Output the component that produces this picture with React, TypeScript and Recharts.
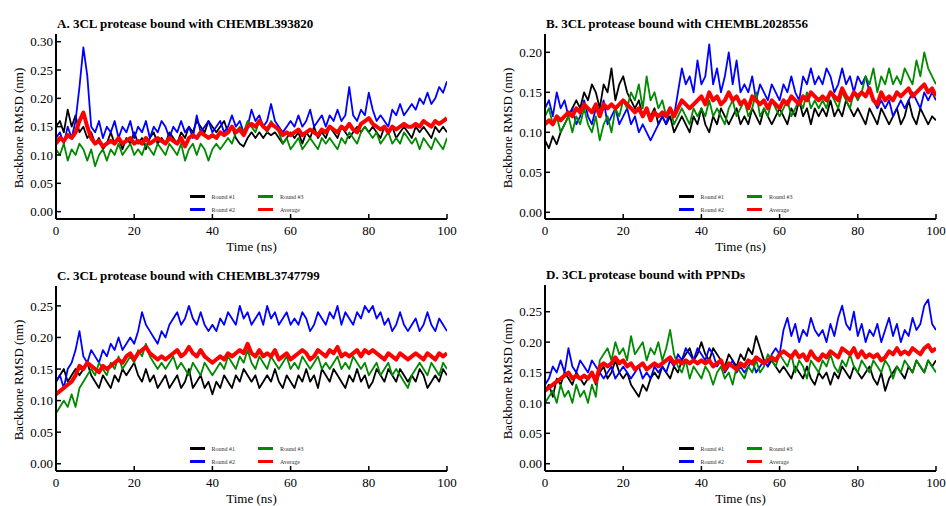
import React from 'react';
import { LineChart, Line, XAxis, YAxis } from 'recharts';

// Simulation time (ns), sampled every 1 ns
const TIME_NS = [
  0, 1, 2, 3, 4, 5, 6, 7, 8, 9, 10,
  11, 12, 13, 14, 15, 16, 17, 18, 19, 20,
  21, 22, 23, 24, 25, 26, 27, 28, 29, 30,
  31, 32, 33, 34, 35, 36, 37, 38, 39, 40,
  41, 42, 43, 44, 45, 46, 47, 48, 49, 50,
  51, 52, 53, 54, 55, 56, 57, 58, 59, 60,
  61, 62, 63, 64, 65, 66, 67, 68, 69, 70,
  71, 72, 73, 74, 75, 76, 77, 78, 79, 80,
  81, 82, 83, 84, 85, 86, 87, 88, 89, 90,
  91, 92, 93, 94, 95, 96, 97, 98, 99, 100,
];

const X_TICKS = [0, 20, 40, 60, 80, 100];
const Y_TICKS_030 = [0, 0.05, 0.1, 0.15, 0.2, 0.25, 0.3];
const Y_TICKS_020 = [0, 0.05, 0.1, 0.15, 0.2];
const Y_TICKS_025 = [0, 0.05, 0.1, 0.15, 0.2, 0.25];

const SERIES_NAMES = ['Round #1', 'Round #2', 'Round #3', 'Average'];

// ---- A. CHEMBL393820 ----
const A_ROUND1 = [
  0.15, 0.16, 0.14, 0.18, 0.15, 0.17, 0.14, 0.15, 0.13, 0.14, 0.12,
  0.13, 0.11, 0.12, 0.14, 0.12, 0.13, 0.11, 0.13, 0.12, 0.14,
  0.12, 0.13, 0.11, 0.13, 0.14, 0.12, 0.13, 0.12, 0.14, 0.13,
  0.12, 0.14, 0.13, 0.15, 0.14, 0.16, 0.15, 0.14, 0.16, 0.15,
  0.14, 0.15, 0.16, 0.14, 0.15, 0.13, 0.12, 0.115, 0.13, 0.14,
  0.13, 0.14, 0.13, 0.14, 0.135, 0.14, 0.13, 0.12, 0.13, 0.14,
  0.13, 0.14, 0.12, 0.14, 0.13, 0.15, 0.13, 0.14, 0.13, 0.15,
  0.14, 0.13, 0.15, 0.14, 0.13, 0.14, 0.15, 0.14, 0.15, 0.14,
  0.15, 0.14, 0.13, 0.15, 0.14, 0.15, 0.13, 0.14, 0.15, 0.14,
  0.13, 0.15, 0.14, 0.15, 0.14, 0.13, 0.15, 0.14, 0.15, 0.14,
];
const A_ROUND2 = [
  0.13, 0.14, 0.12, 0.15, 0.13, 0.16, 0.22, 0.29, 0.24, 0.15, 0.14,
  0.16, 0.13, 0.15, 0.14, 0.16, 0.13, 0.15, 0.14, 0.16, 0.13,
  0.15, 0.14, 0.16, 0.13, 0.15, 0.14, 0.16, 0.15, 0.13, 0.15,
  0.14, 0.16, 0.14, 0.15, 0.13, 0.17, 0.14, 0.15, 0.16, 0.14,
  0.15, 0.16, 0.14, 0.15, 0.17, 0.15, 0.16, 0.14, 0.15, 0.18,
  0.16, 0.17, 0.15, 0.16, 0.19, 0.16, 0.15, 0.14, 0.15, 0.16,
  0.15, 0.17, 0.15, 0.16, 0.18, 0.15, 0.16, 0.17, 0.15, 0.17,
  0.16, 0.18, 0.16, 0.17, 0.22, 0.17, 0.16, 0.18, 0.17, 0.21,
  0.18, 0.16, 0.17, 0.16, 0.15, 0.18, 0.17, 0.19, 0.17, 0.18,
  0.19, 0.18, 0.20, 0.19, 0.21, 0.19, 0.20, 0.22, 0.21, 0.23,
];
const A_ROUND3 = [
  0.11, 0.10, 0.12, 0.09, 0.11, 0.10, 0.12, 0.11, 0.09, 0.11, 0.08,
  0.10, 0.11, 0.09, 0.11, 0.10, 0.12, 0.10, 0.11, 0.12, 0.10,
  0.11, 0.10, 0.12, 0.11, 0.10, 0.12, 0.11, 0.10, 0.12, 0.11,
  0.10, 0.12, 0.09, 0.11, 0.12, 0.10, 0.12, 0.11, 0.09, 0.11,
  0.12, 0.11, 0.12, 0.13, 0.12, 0.14, 0.15, 0.14, 0.16, 0.15,
  0.14, 0.16, 0.15, 0.14, 0.16, 0.15, 0.14, 0.12, 0.13, 0.11,
  0.12, 0.13, 0.11, 0.12, 0.13, 0.12, 0.11, 0.13, 0.12, 0.13,
  0.12, 0.11, 0.13, 0.12, 0.14, 0.13, 0.12, 0.14, 0.15, 0.14,
  0.13, 0.14, 0.12, 0.13, 0.14, 0.12, 0.13, 0.12, 0.14, 0.13,
  0.12, 0.13, 0.11, 0.13, 0.12, 0.11, 0.13, 0.12, 0.11, 0.13,
];
const A_AVERAGE = [
  0.12, 0.13, 0.125, 0.135, 0.13, 0.14, 0.16, 0.175, 0.15, 0.13, 0.12,
  0.125, 0.115, 0.12, 0.125, 0.12, 0.13, 0.12, 0.125, 0.13, 0.12,
  0.125, 0.12, 0.13, 0.12, 0.125, 0.13, 0.125, 0.12, 0.13, 0.125,
  0.12, 0.13, 0.115, 0.13, 0.135, 0.13, 0.14, 0.135, 0.13, 0.135,
  0.13, 0.14, 0.135, 0.14, 0.15, 0.14, 0.145, 0.135, 0.15, 0.155,
  0.15, 0.16, 0.15, 0.145, 0.155, 0.15, 0.145, 0.135, 0.14, 0.135,
  0.14, 0.145, 0.135, 0.14, 0.145, 0.14, 0.135, 0.145, 0.14, 0.15,
  0.145, 0.14, 0.15, 0.145, 0.155, 0.145, 0.14, 0.155, 0.16, 0.165,
  0.155, 0.15, 0.145, 0.15, 0.14, 0.15, 0.145, 0.15, 0.155, 0.15,
  0.15, 0.155, 0.15, 0.16, 0.155, 0.15, 0.16, 0.155, 0.16, 0.165,
];

// ---- B. CHEMBL2028556 ----
const B_ROUND1 = [
  0.09, 0.08, 0.095, 0.085, 0.10, 0.11, 0.12, 0.13, 0.14, 0.13, 0.15,
  0.14, 0.16, 0.15, 0.13, 0.16, 0.15, 0.18, 0.14, 0.16, 0.17,
  0.15, 0.14, 0.13, 0.14, 0.12, 0.13, 0.12, 0.13, 0.11, 0.12,
  0.11, 0.12, 0.10, 0.11, 0.12, 0.11, 0.10, 0.12, 0.11, 0.13,
  0.11, 0.10, 0.12, 0.11, 0.13, 0.12, 0.11, 0.12, 0.13, 0.11,
  0.12, 0.11, 0.13, 0.12, 0.11, 0.13, 0.12, 0.11, 0.12, 0.13,
  0.12, 0.11, 0.13, 0.12, 0.14, 0.12, 0.13, 0.11, 0.13, 0.12,
  0.13, 0.12, 0.14, 0.12, 0.13, 0.12, 0.14, 0.13, 0.12, 0.13,
  0.12, 0.11, 0.13, 0.12, 0.11, 0.13, 0.12, 0.11, 0.12, 0.13,
  0.11, 0.12, 0.14, 0.12, 0.11, 0.13, 0.12, 0.11, 0.12, 0.115,
];
const B_ROUND2 = [
  0.13, 0.14, 0.12, 0.15, 0.13, 0.14, 0.12, 0.13, 0.11, 0.12, 0.14,
  0.12, 0.11, 0.13, 0.12, 0.14, 0.11, 0.12, 0.13, 0.11, 0.12,
  0.13, 0.11, 0.12, 0.10, 0.11, 0.10, 0.09, 0.10, 0.11, 0.12,
  0.11, 0.13, 0.12, 0.15, 0.18, 0.16, 0.17, 0.15, 0.19, 0.16,
  0.17, 0.21, 0.16, 0.18, 0.15, 0.17, 0.20, 0.16, 0.19, 0.15,
  0.16, 0.15, 0.17, 0.14, 0.16, 0.15, 0.14, 0.16, 0.15, 0.14,
  0.16, 0.15, 0.17, 0.15, 0.14, 0.17, 0.16, 0.18, 0.16, 0.17,
  0.16, 0.18, 0.17, 0.15, 0.16, 0.18, 0.16, 0.17, 0.15, 0.17,
  0.16, 0.17, 0.15, 0.14, 0.13, 0.14, 0.13, 0.14, 0.12, 0.13,
  0.14, 0.13, 0.14, 0.15, 0.14, 0.13, 0.15, 0.14, 0.15, 0.14,
];
const B_ROUND3 = [
  0.12, 0.13, 0.11, 0.12, 0.10, 0.11, 0.12, 0.10, 0.12, 0.11, 0.13,
  0.11, 0.10, 0.12, 0.09, 0.11, 0.12, 0.10, 0.13, 0.12, 0.14,
  0.13, 0.15, 0.14, 0.16, 0.13, 0.17, 0.14, 0.15, 0.13, 0.14,
  0.12, 0.13, 0.11, 0.12, 0.13, 0.12, 0.11, 0.13, 0.12, 0.13,
  0.12, 0.14, 0.12, 0.13, 0.12, 0.11, 0.13, 0.14, 0.12, 0.13,
  0.14, 0.12, 0.13, 0.15, 0.12, 0.13, 0.12, 0.14, 0.13, 0.12,
  0.13, 0.14, 0.12, 0.13, 0.14, 0.13, 0.15, 0.13, 0.14, 0.13,
  0.14, 0.13, 0.15, 0.14, 0.13, 0.15, 0.14, 0.13, 0.15, 0.14,
  0.15, 0.17, 0.16, 0.18, 0.15, 0.17, 0.16, 0.18, 0.16, 0.17,
  0.16, 0.18, 0.17, 0.16, 0.19, 0.17, 0.20, 0.18, 0.17, 0.16,
];
const B_AVERAGE = [
  0.11, 0.115, 0.11, 0.12, 0.115, 0.12, 0.125, 0.12, 0.13, 0.125, 0.135,
  0.13, 0.125, 0.135, 0.12, 0.135, 0.13, 0.135, 0.13, 0.135, 0.14,
  0.135, 0.13, 0.125, 0.13, 0.12, 0.13, 0.115, 0.125, 0.12, 0.125,
  0.12, 0.13, 0.12, 0.13, 0.14, 0.135, 0.13, 0.135, 0.14, 0.145,
  0.135, 0.15, 0.14, 0.145, 0.135, 0.14, 0.15, 0.14, 0.145, 0.135,
  0.14, 0.13, 0.145, 0.14, 0.135, 0.14, 0.13, 0.14, 0.135, 0.13,
  0.14, 0.135, 0.145, 0.14, 0.135, 0.145, 0.14, 0.15, 0.145, 0.14,
  0.145, 0.14, 0.15, 0.145, 0.14, 0.155, 0.145, 0.14, 0.15, 0.145,
  0.15, 0.145, 0.155, 0.14, 0.135, 0.15, 0.14, 0.145, 0.14, 0.15,
  0.145, 0.15, 0.155, 0.145, 0.15, 0.155, 0.16, 0.15, 0.155, 0.145,
];

// ---- C. CHEMBL3747799 ----
const C_ROUND1 = [
  0.13, 0.14, 0.15, 0.13, 0.14, 0.15, 0.14, 0.15, 0.16, 0.14, 0.13,
  0.12, 0.14, 0.13, 0.12, 0.14, 0.13, 0.15, 0.14, 0.15, 0.16,
  0.14, 0.13, 0.15, 0.13, 0.14, 0.12, 0.13, 0.14, 0.12, 0.13,
  0.14, 0.12, 0.13, 0.15, 0.12, 0.13, 0.14, 0.12, 0.13, 0.11,
  0.13, 0.12, 0.14, 0.13, 0.12, 0.14, 0.13, 0.15, 0.14, 0.13,
  0.14, 0.12, 0.13, 0.14, 0.13, 0.15, 0.13, 0.12, 0.14, 0.13,
  0.12, 0.14, 0.13, 0.15, 0.13, 0.14, 0.12, 0.15, 0.14, 0.13,
  0.15, 0.14, 0.13, 0.12, 0.14, 0.13, 0.15, 0.13, 0.14, 0.12,
  0.13, 0.15, 0.14, 0.13, 0.15, 0.14, 0.13, 0.15, 0.14, 0.13,
  0.14, 0.13, 0.15, 0.14, 0.12, 0.13, 0.14, 0.13, 0.15, 0.14,
];
const C_ROUND2 = [
  0.13, 0.14, 0.12, 0.15, 0.16, 0.18, 0.21, 0.17, 0.16, 0.18, 0.17,
  0.16, 0.18, 0.17, 0.19, 0.18, 0.20, 0.18, 0.19, 0.20, 0.19,
  0.21, 0.24, 0.22, 0.21, 0.20, 0.19, 0.21, 0.20, 0.22, 0.23,
  0.24, 0.22, 0.23, 0.25, 0.23, 0.22, 0.24, 0.22, 0.21, 0.22,
  0.21, 0.23, 0.22, 0.24, 0.23, 0.22, 0.25, 0.23, 0.24, 0.22,
  0.23, 0.24, 0.22, 0.25, 0.23, 0.24, 0.22, 0.23, 0.24, 0.22,
  0.23, 0.22, 0.24, 0.23, 0.21, 0.22, 0.24, 0.23, 0.22, 0.24,
  0.23, 0.25, 0.22, 0.24, 0.23, 0.22, 0.24, 0.23, 0.25, 0.24,
  0.25, 0.23, 0.24, 0.22, 0.23, 0.21, 0.22, 0.24, 0.22, 0.21,
  0.22, 0.23, 0.21, 0.22, 0.24, 0.22, 0.21, 0.23, 0.22, 0.21,
];
const C_ROUND3 = [
  0.08, 0.09, 0.10, 0.09, 0.11, 0.09, 0.12, 0.13, 0.14, 0.15, 0.14,
  0.16, 0.15, 0.14, 0.16, 0.15, 0.17, 0.15, 0.16, 0.17, 0.16,
  0.18, 0.17, 0.19, 0.17, 0.16, 0.15, 0.16, 0.15, 0.16, 0.17,
  0.15, 0.16, 0.15, 0.14, 0.16, 0.15, 0.14, 0.16, 0.15, 0.14,
  0.15, 0.16, 0.15, 0.17, 0.16, 0.15, 0.17, 0.16, 0.18, 0.16,
  0.15, 0.17, 0.16, 0.15, 0.17, 0.16, 0.15, 0.16, 0.17, 0.15,
  0.16, 0.15, 0.17, 0.16, 0.15, 0.16, 0.17, 0.15, 0.16, 0.15,
  0.16, 0.17, 0.15, 0.16, 0.15, 0.17, 0.16, 0.15, 0.16, 0.14,
  0.15, 0.16, 0.14, 0.15, 0.16, 0.14, 0.15, 0.14, 0.13, 0.12,
  0.14, 0.15, 0.16, 0.15, 0.14, 0.16, 0.15, 0.14, 0.16, 0.15,
];
const C_AVERAGE = [
  0.11, 0.115, 0.12, 0.125, 0.13, 0.14, 0.155, 0.15, 0.16, 0.155, 0.15,
  0.145, 0.155, 0.15, 0.155, 0.16, 0.165, 0.16, 0.17, 0.175, 0.165,
  0.175, 0.18, 0.185, 0.175, 0.17, 0.165, 0.17, 0.165, 0.17, 0.175,
  0.18, 0.17, 0.175, 0.185, 0.175, 0.17, 0.18, 0.17, 0.165, 0.16,
  0.165, 0.17, 0.165, 0.175, 0.17, 0.175, 0.18, 0.175, 0.19, 0.175,
  0.17, 0.18, 0.17, 0.175, 0.17, 0.18, 0.165, 0.17, 0.175, 0.165,
  0.17, 0.175, 0.18, 0.175, 0.165, 0.17, 0.18, 0.175, 0.17, 0.18,
  0.175, 0.185, 0.17, 0.175, 0.17, 0.175, 0.18, 0.17, 0.18, 0.175,
  0.18, 0.175, 0.17, 0.165, 0.175, 0.17, 0.165, 0.175, 0.17, 0.165,
  0.17, 0.175, 0.17, 0.165, 0.175, 0.17, 0.165, 0.175, 0.17, 0.175,
];

// ---- D. PPNDs ----
const D_ROUND1 = [
  0.12, 0.13, 0.11, 0.14, 0.13, 0.15, 0.14, 0.13, 0.15, 0.14, 0.13,
  0.14, 0.15, 0.13, 0.15, 0.16, 0.14, 0.15, 0.17, 0.15, 0.14,
  0.15, 0.13, 0.12, 0.11, 0.13, 0.12, 0.14, 0.15, 0.14, 0.16,
  0.15, 0.14, 0.16, 0.15, 0.17, 0.18, 0.19, 0.17, 0.18, 0.20,
  0.18, 0.17, 0.19, 0.18, 0.17, 0.16, 0.18, 0.17, 0.16, 0.18,
  0.17, 0.19, 0.18, 0.21, 0.19, 0.17, 0.16, 0.17, 0.16, 0.15,
  0.16, 0.15, 0.14, 0.16, 0.15, 0.14, 0.16, 0.14, 0.13, 0.15,
  0.14, 0.15, 0.13, 0.15, 0.14, 0.16, 0.15, 0.14, 0.16, 0.15,
  0.14, 0.15, 0.16, 0.14, 0.13, 0.15, 0.12, 0.14, 0.15, 0.16,
  0.15, 0.14, 0.16, 0.15, 0.17, 0.16, 0.15, 0.17, 0.16, 0.17,
];
const D_ROUND2 = [
  0.13, 0.14, 0.16, 0.15, 0.17, 0.15, 0.19, 0.16, 0.15, 0.17, 0.16,
  0.15, 0.17, 0.16, 0.15, 0.14, 0.15, 0.16, 0.14, 0.15, 0.16,
  0.15, 0.14, 0.15, 0.16, 0.14, 0.15, 0.14, 0.16, 0.15, 0.16,
  0.15, 0.17, 0.16, 0.18, 0.17, 0.19, 0.18, 0.17, 0.19, 0.18,
  0.17, 0.19, 0.18, 0.16, 0.17, 0.15, 0.16, 0.17, 0.15, 0.16,
  0.15, 0.16, 0.17, 0.15, 0.16, 0.17, 0.16, 0.18, 0.19, 0.18,
  0.22, 0.24, 0.21, 0.23, 0.20, 0.22, 0.21, 0.24, 0.22, 0.21,
  0.22, 0.20, 0.23, 0.21, 0.24, 0.26, 0.23, 0.22, 0.25, 0.21,
  0.23, 0.20, 0.22, 0.21, 0.23, 0.20, 0.22, 0.24, 0.21, 0.23,
  0.20, 0.22, 0.21, 0.24, 0.22, 0.23, 0.26, 0.27, 0.23, 0.22,
];
const D_ROUND3 = [
  0.10, 0.11, 0.12, 0.10, 0.13, 0.11, 0.12, 0.10, 0.13, 0.11, 0.12,
  0.10, 0.13, 0.11, 0.17, 0.18, 0.19, 0.17, 0.20, 0.18, 0.19,
  0.17, 0.21, 0.18, 0.19, 0.20, 0.17, 0.19, 0.18, 0.20, 0.17,
  0.19, 0.22, 0.18, 0.16, 0.15, 0.17, 0.14, 0.16, 0.15, 0.14,
  0.16, 0.15, 0.13, 0.15, 0.16, 0.14, 0.15, 0.13, 0.16, 0.15,
  0.14, 0.16, 0.15, 0.17, 0.15, 0.16, 0.18, 0.17, 0.16, 0.18,
  0.17, 0.16, 0.18, 0.15, 0.17, 0.16, 0.14, 0.17, 0.16, 0.15,
  0.17, 0.16, 0.18, 0.16, 0.15, 0.17, 0.16, 0.18, 0.16, 0.15,
  0.17, 0.16, 0.15, 0.17, 0.16, 0.15, 0.17, 0.16, 0.14, 0.16,
  0.15, 0.17, 0.16, 0.15, 0.17, 0.16, 0.15, 0.17, 0.16, 0.15,
];
const D_AVERAGE = [
  0.12, 0.125, 0.13, 0.135, 0.14, 0.145, 0.15, 0.14, 0.145, 0.14, 0.145,
  0.14, 0.15, 0.135, 0.16, 0.165, 0.16, 0.165, 0.175, 0.165, 0.17,
  0.16, 0.165, 0.155, 0.16, 0.165, 0.155, 0.16, 0.165, 0.16, 0.165,
  0.17, 0.175, 0.165, 0.17, 0.165, 0.17, 0.165, 0.17, 0.165, 0.17,
  0.165, 0.17, 0.16, 0.165, 0.17, 0.155, 0.165, 0.16, 0.155, 0.165,
  0.16, 0.17, 0.165, 0.175, 0.17, 0.165, 0.17, 0.175, 0.17, 0.18,
  0.185, 0.18, 0.175, 0.185, 0.175, 0.18, 0.17, 0.185, 0.175, 0.17,
  0.18, 0.175, 0.185, 0.18, 0.175, 0.19, 0.185, 0.18, 0.19, 0.175,
  0.185, 0.175, 0.18, 0.175, 0.18, 0.17, 0.175, 0.185, 0.18, 0.19,
  0.18, 0.185, 0.18, 0.19, 0.185, 0.18, 0.19, 0.195, 0.185, 0.19,
];

// ---- layout & styling ----
const SERIF = '"Liberation Serif", "Times New Roman", serif';
const SERIES_STYLE = [
  { key: 'r1', color: '#000000', width: 1.8 },
  { key: 'r2', color: '#0000ff', width: 1.8 },
  { key: 'r3', color: '#008a00', width: 1.8 },
  { key: 'avg', color: '#ff0000', width: 4 },
];

type Panel = {
  title: string;
  x0: number;
  y0: number;
  plot: { l: number; t: number; r: number; b: number };
  yDomain: [number, number];
  yTicks: number[];
  series: number[][];
};

const PANELS: Panel[] = [
  {
    title: 'A. 3CL protease bound with CHEMBL393820',
    x0: 0, y0: 0,
    plot: { l: 56, t: 34, r: 447, b: 219 },
    yDomain: [-0.013, 0.3136],
    yTicks: Y_TICKS_030,
    series: [A_ROUND1, A_ROUND2, A_ROUND3, A_AVERAGE],
  },
  {
    title: 'B. 3CL protease bound with CHEMBL2028556',
    x0: 473, y0: 0,
    plot: { l: 545, t: 34, r: 936, b: 219 },
    yDomain: [-0.0084, 0.2229],
    yTicks: Y_TICKS_020,
    series: [B_ROUND1, B_ROUND2, B_ROUND3, B_AVERAGE],
  },
  {
    title: 'C. 3CL protease bound with CHEMBL3747799',
    x0: 0, y0: 253,
    plot: { l: 56, t: 286, r: 447, b: 471 },
    yDomain: [-0.0115, 0.2815],
    yTicks: Y_TICKS_025,
    series: [C_ROUND1, C_ROUND2, C_ROUND3, C_AVERAGE],
  },
  {
    title: 'D. 3CL protease bound with PPNDs',
    x0: 473, y0: 253,
    plot: { l: 545, t: 285, r: 936, b: 471 },
    yDomain: [-0.012, 0.294],
    yTicks: Y_TICKS_025,
    series: [D_ROUND1, D_ROUND2, D_ROUND3, D_AVERAGE],
  },
];

const PANEL_W = 473;
const PANEL_H = 253;
const X_AXIS_H = 30;

const tickStyle = { fontFamily: SERIF, fontSize: 13, fill: '#000' };
const axisLine = { stroke: '#000', strokeWidth: 2 };
const tickLine = { stroke: '#000', strokeWidth: 1.5 };

function RmsdPanel({ p }: { p: Panel }) {
  const rows = TIME_NS.map((t, i) => ({
    t,
    r1: p.series[0][i],
    r2: p.series[1][i],
    r3: p.series[2][i],
    avg: p.series[3][i],
  }));
  const margin = {
    top: p.plot.t - p.y0,
    right: p.x0 + PANEL_W - p.plot.r,
    left: 0,
    bottom: p.y0 + PANEL_H - p.plot.b - X_AXIS_H,
  };
  const cx = (p.plot.l + p.plot.r) / 2;
  const cy = (p.plot.t + p.plot.b) / 2;

  return (
    <>
      <div style={{ position: 'absolute', left: p.x0, top: p.y0 }}>
        <LineChart width={PANEL_W} height={PANEL_H} data={rows} margin={margin}>
          <XAxis
            dataKey="t"
            type="number"
            domain={[0, 100]}
            ticks={X_TICKS}
            allowDataOverflow
            height={X_AXIS_H}
            tick={tickStyle}
            tickSize={-5}
            tickMargin={12}
            axisLine={axisLine}
            tickLine={tickLine}
          />
          <XAxis
            xAxisId="top"
            dataKey="t"
            type="number"
            orientation="top"
            domain={[0, 100]}
            allowDataOverflow
            height={0}
            tick={false}
            tickLine={false}
            axisLine={axisLine}
          />
          <YAxis
            type="number"
            domain={p.yDomain}
            ticks={p.yTicks}
            allowDataOverflow
            width={p.plot.l - p.x0}
            tick={tickStyle}
            tickFormatter={(v: number) => v.toFixed(2)}
            tickSize={-5}
            tickMargin={8}
            axisLine={axisLine}
            tickLine={tickLine}
          />
          <YAxis
            yAxisId="right"
            type="number"
            orientation="right"
            domain={p.yDomain}
            allowDataOverflow
            width={0}
            tick={false}
            tickLine={false}
            axisLine={axisLine}
          />
          {SERIES_STYLE.map((s, i) => (
            <Line
              key={s.key}
              dataKey={s.key}
              name={SERIES_NAMES[i]}
              type="linear"
              stroke={s.color}
              strokeWidth={s.width}
              strokeLinejoin="round"
              dot={false}
              activeDot={false}
              isAnimationActive={false}
            />
          ))}
        </LineChart>
      </div>

      {/* panel title */}
      <div
        style={{
          position: 'absolute', left: p.plot.l + 1, top: p.plot.t - 11.5,
          transform: 'translateY(-50%)', fontFamily: SERIF, fontWeight: 700,
          fontSize: 13, lineHeight: 1, whiteSpace: 'nowrap', color: '#000',
        }}
      >
        {p.title}
      </div>

      {/* x-axis title */}
      <div
        style={{
          position: 'absolute', left: cx, top: p.plot.b + 27,
          transform: 'translate(-50%, -50%)', fontFamily: SERIF, fontSize: 13,
          lineHeight: 1, whiteSpace: 'nowrap', color: '#000',
        }}
      >
        Time (ns)
      </div>

      {/* y-axis title */}
      <div
        style={{
          position: 'absolute', left: p.plot.l - 38.5, top: cy + 1,
          transform: 'translate(-50%, -50%) rotate(-90deg)', fontFamily: SERIF,
          fontSize: 13, lineHeight: 1, whiteSpace: 'nowrap', color: '#000',
        }}
      >
        Backbone RMSD (nm)
      </div>

      {/* legend */}
      <div
        style={{
          position: 'absolute', left: cx - 62, top: p.plot.b - 29,
          display: 'grid', gridTemplateColumns: '68.5px 60px',
          gridAutoRows: '13px', alignItems: 'center',
          fontFamily: SERIF, fontSize: 6, color: '#333', lineHeight: 1,
        }}
      >
        {[0, 2, 1, 3].map((i) => (
          <div key={i} style={{ display: 'flex', alignItems: 'center' }}>
            <span
              style={{
                display: 'inline-block', width: 15, height: 3,
                background: SERIES_STYLE[i].color, marginRight: 7,
              }}
            />
            <span>{SERIES_NAMES[i]}</span>
          </div>
        ))}
      </div>
    </>
  );
}

export default function App() {
  return (
    <div
      style={{
        position: 'absolute', left: 0, top: 0, width: 946, height: 506,
        background: '#fff', overflow: 'hidden',
      }}
    >
      {PANELS.map((p) => (
        <RmsdPanel key={p.title} p={p} />
      ))}
    </div>
  );
}
